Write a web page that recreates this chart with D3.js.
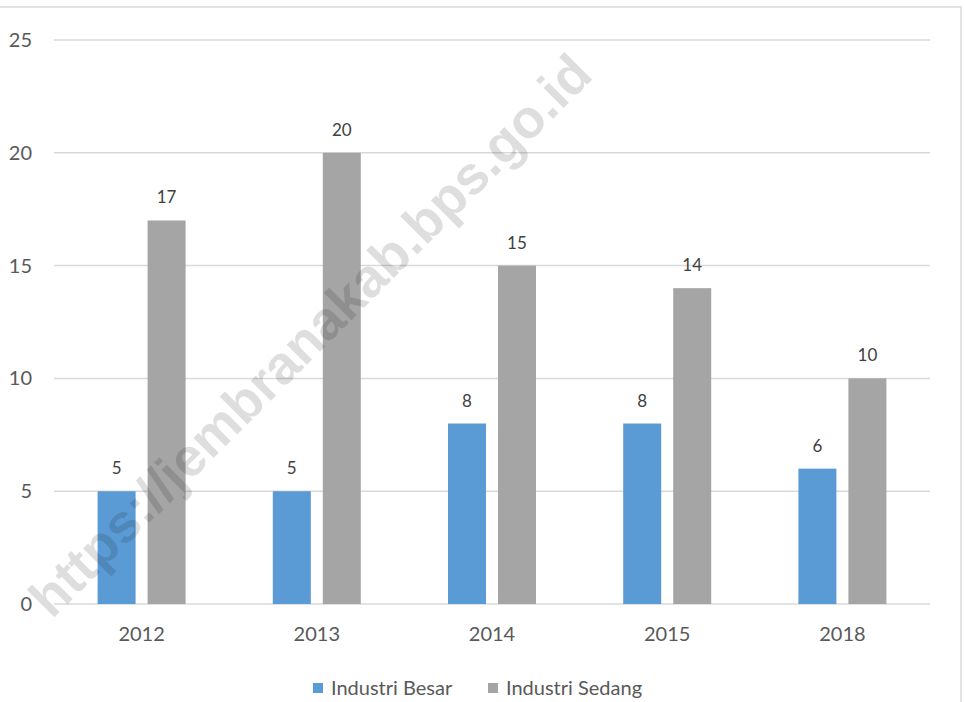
<!DOCTYPE html>
<html>
<head>
<meta charset="utf-8">
<script src="https://cdn.jsdelivr.net/npm/d3@7/dist/d3.min.js"></script>
<style>
  body { margin: 0; background: #fff; }
  svg { display: block; }
</style>
</head>
<body>
<svg id="chart" width="965" height="702"></svg>
<script>
const years = ["2012", "2013", "2014", "2015", "2018"];
const seriesNames = ["Industri Besar", "Industri Sedang"];
const besar = [5, 5, 8, 8, 6];
const sedang = [17, 20, 15, 14, 10];
const yTicks = [0, 5, 10, 15, 20, 25];
const colors = ["#5B9BD5", "#A5A5A5"];

const rows = years.map((y, i) => ({year: y, values: [besar[i], sedang[i]]}));

const svg = d3.select("#chart");
const font = "Lato, 'Open Sans', sans-serif";

// outer chart border (cut off at left and bottom)
svg.append("rect")
  .attr("x", -5).attr("y", 7).attr("width", 966).attr("height", 720)
  .attr("fill", "none").attr("stroke", "#d9d9d9").attr("stroke-width", 1.5);

const x0 = d3.scaleBand().domain(years).range([54, 930]);
const x1 = d3.scaleBand().domain(seriesNames)
  .range([x0.bandwidth() / 2 - 44, x0.bandwidth() / 2 + 44])
  .paddingInner(0.24);
const y = d3.scaleLinear().domain([0, 25]).range([604, 40]);

// gridlines
svg.append("g").selectAll("line")
  .data(yTicks)
  .join("line")
  .attr("x1", 54).attr("x2", 930)
  .attr("y1", d => y(d)).attr("y2", d => y(d))
  .attr("stroke", "#d9d9d9").attr("stroke-width", 1.5);

// y labels
svg.append("g").selectAll("text")
  .data(yTicks)
  .join("text")
  .attr("x", 32).attr("y", d => y(d))
  .attr("dy", "0.35em")
  .attr("text-anchor", "end")
  .attr("font-family", font).attr("font-size", 20)
  .attr("fill", "#595959")
  .text(d => d);

// bars
const groups = svg.append("g").selectAll("g")
  .data(rows)
  .join("g")
  .attr("transform", d => `translate(${x0(d.year)},0)`);

groups.selectAll("rect")
  .data(d => d.values.map((v, i) => ({name: seriesNames[i], v, i})))
  .join("rect")
  .attr("x", d => x1(d.name))
  .attr("width", x1.bandwidth())
  .attr("y", d => y(d.v))
  .attr("height", d => y(0) - y(d.v))
  .attr("fill", d => colors[d.i]);

groups.selectAll("text")
  .data(d => d.values.map((v, i) => ({name: seriesNames[i], v, i})))
  .join("text")
  .attr("x", d => x1(d.name) + x1.bandwidth() / 2)
  .attr("y", d => y(d.v) - 17)
  .attr("text-anchor", "middle")
  .attr("font-family", font).attr("font-size", 17)
  .attr("fill", "#404040")
  .text(d => d.v);

// x labels
svg.append("g").selectAll("text")
  .data(years)
  .join("text")
  .attr("x", d => x0(d) + x0.bandwidth() / 2)
  .attr("y", 634)
  .attr("dy", "0.35em")
  .attr("text-anchor", "middle")
  .attr("font-family", font).attr("font-size", 20)
  .attr("fill", "#595959")
  .text(d => d);

// legend
const legendX = [313, 488];
const legend = svg.append("g").selectAll("g")
  .data(seriesNames)
  .join("g")
  .attr("transform", (d, i) => `translate(${legendX[i]},688)`);
legend.append("rect")
  .attr("x", 0).attr("y", -5).attr("width", 10).attr("height", 10)
  .attr("fill", (d, i) => colors[i]);
legend.append("text")
  .attr("x", 18).attr("y", 0).attr("dy", "0.35em")
  .attr("font-family", font).attr("font-size", 20)
  .attr("fill", "#595959")
  .text(d => d);

// watermark
svg.append("text")
  .attr("transform", "translate(310,335) rotate(-45)")
  .attr("text-anchor", "middle")
  .attr("dy", "0.35em")
  .attr("font-family", "'Liberation Sans', Arial, sans-serif")
  .attr("font-weight", "bold")
  .attr("font-size", 54)
  .attr("fill", "#000")
  .attr("fill-opacity", 0.13)
  .text("https://jembranakab.bps.go.id");
</script>
</body>
</html>
